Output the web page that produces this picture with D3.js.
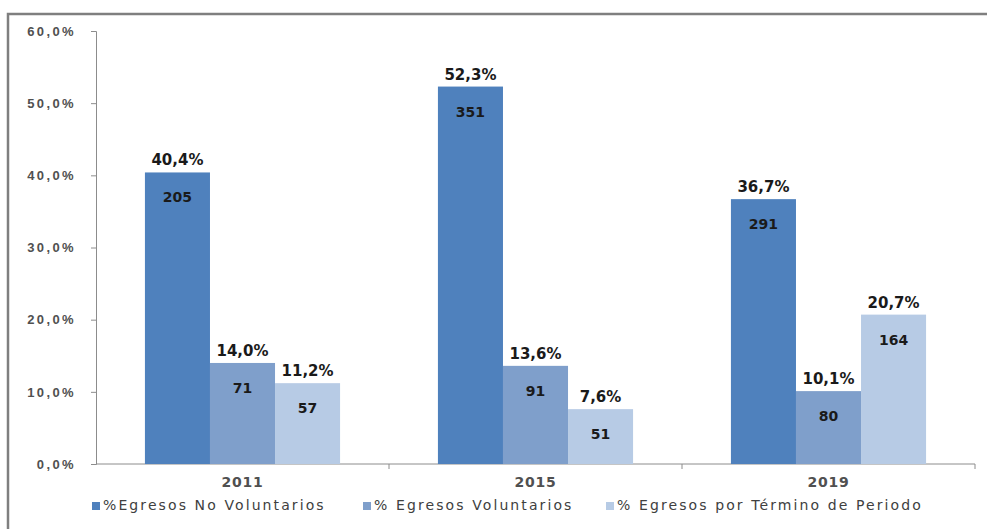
<!DOCTYPE html>
<html>
<head>
<meta charset="utf-8">
<script src="https://cdn.jsdelivr.net/npm/d3@7"></script>
<style>
  body { margin: 0; background: #fff; }
  svg { display: block; font-family: Verdana, "DejaVu Sans", sans-serif; }
  .axis path, .axis line { stroke: #8c8c8c; }
  .axis text { fill: #505050; font-size: 13px; font-weight: bold; letter-spacing: 1.2px; }
  .axis.y text { letter-spacing: 2.4px; }
</style>
</head>
<body>
<div id="chart"></div>
<script>
var years = ["2011", "2015", "2019"]
var seriesNames = ["%Egresos No Voluntarios", "% Egresos Voluntarios", "% Egresos por Término de Periodo"]
var noVoluntarios = [40.4, 52.3, 36.7]
var voluntarios = [14.0, 13.6, 10.1]
var terminoPeriodo = [11.2, 7.6, 20.7]
var countNoVol = [205, 351, 291]
var countVol = [71, 91, 80]
var countTermino = [57, 51, 164]
var yTicks = [0, 10, 20, 30, 40, 50, 60]
var colors = ["#4f81bd", "#7f9fcb", "#b7cbe5"]

var W = 987, H = 529
var margin = {top: 31, right: 12, bottom: 65, left: 96}
var width = W - margin.left - margin.right,
    height = H - margin.top - margin.bottom

var svg = d3.select("#chart").append("svg")
  .attr("width", W)
  .attr("height", H)

// outer frame (runs off the right and bottom like the picture)
svg.append("rect")
  .attr("x", 8).attr("y", 14)
  .attr("width", 1000).attr("height", 540)
  .attr("fill", "none")
  .attr("stroke", "#7f7f7f")
  .attr("stroke-width", 2.5)

var g = svg.append("g")
  .attr("transform", "translate(" + margin.left + "," + margin.top + ")")

var x = d3.scaleBand()
  .domain(years)
  .range([0, width])
  .paddingInner(0.334)
  .paddingOuter(0.167)

var series = [
  {name: seriesNames[0], pct: noVoluntarios, n: countNoVol},
  {name: seriesNames[1], pct: voluntarios, n: countVol},
  {name: seriesNames[2], pct: terminoPeriodo, n: countTermino}
]

var xs = d3.scaleBand()
  .domain(d3.range(series.length))
  .range([0, x.bandwidth()])

var y = d3.scaleLinear()
  .domain([0, 60])
  .range([height, 0])

g.append("g")
  .attr("class", "axis y")
  .call(d3.axisLeft(y).tickValues(yTicks).tickSize(5).tickSizeOuter(5)
    .tickFormat(d => d3.format(".1f")(d).replace(".", ",") + "%"))
  .call(a => a.selectAll("text").attr("x", -20))

// category axis with ticks between groups
var xAxis = g.append("g")
  .attr("class", "axis x")
  .attr("transform", "translate(0," + height + ")")
xAxis.append("line")
  .attr("x1", 0).attr("x2", width)
  .attr("stroke", "#8c8c8c")
var step = x.step()
xAxis.selectAll("line.sep")
  .data(d3.range(1, years.length + 1))
  .enter().append("line")
    .attr("class", "sep")
    .attr("x1", d => d * step)
    .attr("x2", d => d * step)
    .attr("y1", 0).attr("y2", 5)
xAxis.selectAll("text")
  .data(years)
  .enter().append("text")
    .attr("x", d => x(d) + x.bandwidth() / 2)
    .attr("y", 23)
    .attr("text-anchor", "middle")
    .style("font-size", "14px")
    .style("letter-spacing", "0.8px")
    .text(d => d)

var bars = []
series.forEach((s, i) => {
  years.forEach((yr, j) => {
    bars.push({year: yr, idx: i, pct: s.pct[j], n: s.n[j]})
  })
})

var bar = g.selectAll("g.bar")
  .data(bars)
  .enter().append("g")
    .attr("class", "bar")
    .attr("transform", d => "translate(" + (x(d.year) + xs(d.idx)) + ",0)")

bar.append("rect")
  .attr("y", d => y(d.pct))
  .attr("width", xs.bandwidth())
  .attr("height", d => height - y(d.pct))
  .attr("fill", d => colors[d.idx])

bar.append("text")
  .attr("x", xs.bandwidth() / 2)
  .attr("y", d => y(d.pct) - 7)
  .attr("text-anchor", "middle")
  .attr("fill", "#1a1a1a")
  .style("font-size", "15px")
  .style("font-weight", "bold")
  .text(d => d3.format(".1f")(d.pct).replace(".", ",") + "%")

bar.append("text")
  .attr("x", xs.bandwidth() / 2)
  .attr("y", d => y(d.pct) + 30)
  .attr("text-anchor", "middle")
  .attr("fill", "#1a1a1a")
  .style("font-size", "14px")
  .style("font-weight", "bold")
  .text(d => d.n)

// legend
var legendX = [92, 363, 606]
var legend = svg.selectAll("g.legend")
  .data(series)
  .enter().append("g")
    .attr("class", "legend")
    .attr("transform", (d, i) => "translate(" + legendX[i] + ",510)")
legend.append("rect")
  .attr("x", 0).attr("y", -8)
  .attr("width", 8).attr("height", 8)
  .attr("fill", (d, i) => colors[i])
legend.append("text")
  .attr("x", 11)
  .attr("y", 0)
  .attr("fill", "#404040")
  .style("font-family", "'DejaVu Sans', sans-serif")
  .style("font-size", "14px")
  .style("letter-spacing", "2.1px")
  .text(d => d.name)
</script>
</body>
</html>
